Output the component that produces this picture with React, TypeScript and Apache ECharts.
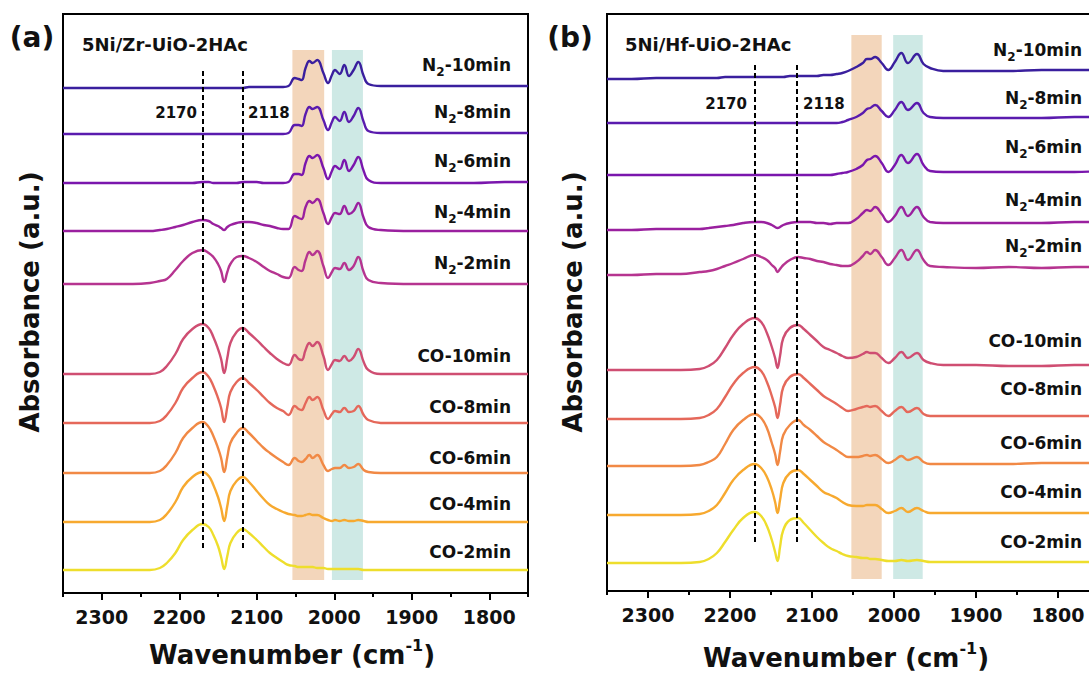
import React, { useEffect, useRef } from "react";
import * as echarts from "echarts";

// ---------- data ----------
// wavenumber sampling (cm-1)
const WN_A = [2350, 2320, 2290, 2260, 2238, 2225, 2216, 2205, 2195, 2183, 2170, 2162, 2156, 2150, 2146, 2142, 2138, 2134, 2126, 2118, 2110, 2100, 2091, 2083, 2074, 2066, 2059, 2051, 2046, 2042, 2037, 2032, 2028, 2022, 2014, 2008, 2003, 1999, 1993, 1987, 1981, 1975, 1969, 1962, 1956, 1940, 1900, 1860, 1820, 1780, 1750];
const WN_B = [2350, 2320, 2290, 2260, 2237, 2226, 2216, 2206, 2196, 2184, 2170, 2162, 2155, 2149, 2145, 2142, 2139, 2135, 2127, 2117, 2110, 2102, 2094, 2086, 2078, 2070, 2063, 2056, 2046, 2038, 2033, 2029, 2023, 2015, 2007, 1999, 1991, 1983, 1972, 1964, 1956, 1940, 1900, 1860, 1820, 1780, 1750];

const SPECTRA_NAMES = ["N2-10min", "N2-8min", "N2-6min", "N2-4min", "N2-2min", "CO-10min", "CO-8min", "CO-6min", "CO-4min", "CO-2min"];

// vertical offsets of each stacked spectrum (a.u.)
const OFFSET_A = [505, 459, 410, 362, 309, 219, 170, 120, 71, 23];
const OFFSET_B = [512, 468, 416, 361, 316, 221, 172, 125, 76, 28];

// panel (a) 5Ni/Zr-UiO-2HAc
const A_N2_10 = [0, 0, 0, 0, 0, 0, 0, 0, 0, 0, 0, 0, 0, 0, 0, 0, 0, 0, 0, 0, 1, 1, 1, 1, 1, 1, 2, 10, 9, 8, 20, 27, 25, 28, 15, 5, 13, 18, 14, 23, 12, 18, 26, 12, 4, 2, 2, 2, 2, 2, 2];
const A_N2_8 = [0, 0, 0, 0, 0, 0, 0, 0, 0, 0, 0, 0, 0, 0, 0, 0, 0, 0, 0, 0, 0, 0, 0, 0, 0, 0, 1, 9, 9, 8, 20, 27, 25, 27, 14, 4, 12, 17, 13, 22, 12, 18, 26, 12, 3, 1, 1, 1, 1, 1, 1];
const A_N2_6 = [0, 0, 0, 0, 0, 0, 0, 0, 0, 0, 1, 1, 0, 0, 0, 0, 0, 0, 0, 1, 1, 1, 0, 0, 0, 0, 1, 9, 9, 8, 20, 27, 25, 28, 15, 4, 12, 17, 14, 23, 12, 18, 26, 12, 3, 0, 0, 0, 0, 1, 1];
const A_N2_4 = [0, 0, 0, 0, 0, 1, 2, 4, 6, 9, 11, 10, 7, 5, 3, 1, 4, 6, 8, 9, 9, 8, 6, 5, 3, 2, 2, 15, 13, 12, 24, 30, 28, 32, 18, 7, 14, 18, 17, 25, 17, 20, 28, 13, 4, 1, 0, 0, 0, 0, 0];
const A_N2_2 = [0, 0, 0, 0, 1, 3, 5, 14, 23, 31, 34, 31, 27, 20, 13, 2, 12, 20, 27, 28, 26, 22, 17, 13, 10, 7, 6, 17, 14, 13, 24, 32, 29, 33, 18, 6, 12, 16, 15, 21, 14, 18, 27, 12, 4, 1, 0, 0, 0, 0, 0];
const A_CO_10 = [0, 0, 0, 0, 0, 2, 8, 20, 35, 45, 50, 46, 37, 25, 15, 1, 16, 31, 42, 46, 41, 34, 27, 21, 15, 11, 9, 19, 15, 14, 24, 31, 28, 32, 18, 4, 10, 14, 13, 18, 13, 17, 25, 12, 4, 0, 0, 0, 0, 0, 0];
const A_CO_8 = [0, 0, 0, 0, 0, 2, 8, 20, 35, 45, 51, 46, 37, 25, 15, 1, 16, 31, 41, 45, 40, 33, 26, 20, 15, 12, 8, 17, 14, 13, 20, 26, 23, 26, 13, 4, 9, 12, 11, 15, 11, 12, 17, 8, 3, 0, 0, 0, 0, 0, 0];
const A_CO_6 = [0, 0, 0, 0, 0, 2, 8, 20, 35, 45, 51, 46, 37, 25, 15, 1, 16, 30, 40, 45, 40, 32, 25, 20, 15, 11, 8, 15, 12, 11, 14, 18, 15, 18, 8, 2, 4, 5, 5, 8, 5, 6, 9, 3, 1, 0, 0, 0, 0, 0, 0];
const A_CO_4 = [0, 0, 0, 0, 0, 2, 8, 20, 35, 45, 50, 46, 37, 25, 14, 1, 16, 31, 41, 45, 40, 31, 23, 17, 13, 10, 8, 7, 6, 6, 7, 8, 7, 7, 4, 2, 1, 2, 1, 2, 1, 1, 2, 1, 0, 0, 0, 0, 0, 0, 0];
const A_CO_2 = [0, 0, 0, 0, 0, 2, 7, 17, 30, 40, 46, 43, 35, 24, 13, 1, 14, 27, 37, 41, 37, 30, 23, 17, 12, 8, 5, 4, 3, 3, 3, 3, 3, 2, 2, 1, 1, 1, 1, 1, 1, 1, 1, 0, 0, 0, 0, 0, 0, 0, 0];

// panel (b) 5Ni/Hf-UiO-2HAc
const B_N2_10 = [0, 0, 1, 1, 1, 1, 1, 2, 2, 2, 2, 2, 2, 2, 2, 2, 2, 2, 3, 3, 3, 3, 3, 4, 4, 5, 6, 8, 12, 16, 20, 20, 22, 16, 9, 17, 26, 16, 25, 15, 11, 8, 8, 8, 9, 9, 9];
const B_N2_8 = [0, 0, 0, 0, 0, 0, 0, 0, 0, 0, 0, 0, 0, 0, 0, 0, 0, 0, 0, 0, 0, 0, 0, 0, 0, 0, 1, 3, 6, 10, 14, 15, 18, 12, 6, 13, 21, 13, 20, 10, 6, 5, 5, 5, 5, 6, 6];
const B_N2_6 = [0, 0, 0, 0, 0, 0, 0, 0, 0, 0, 0, 0, 0, 0, 0, 0, 0, 0, 0, 0, 0, 0, 0, 0, 0, 1, 2, 3, 6, 10, 15, 16, 19, 12, 3, 10, 20, 12, 21, 10, 4, 3, 3, 3, 3, 3, 4];
const B_N2_4 = [0, 0, 1, 1, 1, 2, 3, 4, 5, 7, 8, 8, 7, 5, 3, 2, 3, 5, 7, 8, 8, 8, 7, 7, 6, 7, 7, 7, 11, 17, 20, 19, 23, 16, 8, 14, 23, 14, 23, 13, 8, 7, 7, 7, 7, 8, 8];
const B_N2_2 = [0, 0, 1, 1, 3, 4, 6, 9, 12, 16, 20, 18, 15, 10, 7, 3, 6, 10, 15, 18, 17, 16, 14, 13, 11, 10, 9, 9, 13, 19, 23, 21, 25, 18, 10, 17, 25, 15, 25, 15, 9, 8, 7, 8, 7, 8, 8];
const B_CO_10 = [0, 0, 0, 0, 1, 4, 10, 22, 35, 46, 52, 48, 37, 23, 12, 2, 14, 32, 42, 45, 41, 35, 29, 23, 20, 17, 14, 12, 13, 16, 18, 17, 17, 12, 7, 12, 18, 12, 17, 10, 7, 5, 5, 4, 4, 5, 5];
const B_CO_8 = [0, 0, 0, 0, 1, 4, 10, 22, 35, 46, 52, 48, 37, 23, 12, 1, 14, 32, 42, 45, 41, 35, 29, 23, 19, 15, 11, 8, 10, 12, 13, 12, 13, 8, 3, 8, 12, 7, 11, 5, 3, 3, 3, 3, 3, 3, 3];
const B_CO_6 = [0, 0, 0, 0, 1, 4, 9, 22, 36, 46, 52, 48, 38, 23, 12, 1, 14, 31, 41, 46, 41, 36, 30, 24, 20, 16, 12, 9, 9, 10, 11, 10, 11, 7, 3, 6, 10, 6, 9, 4, 2, 2, 2, 2, 3, 3, 3];
const B_CO_4 = [0, 0, 0, 0, 1, 4, 10, 22, 35, 45, 51, 47, 38, 25, 13, 2, 15, 32, 42, 45, 41, 35, 29, 23, 20, 17, 13, 10, 9, 9, 10, 10, 10, 6, 2, 4, 7, 3, 7, 4, 2, 2, 2, 2, 2, 2, 2];
const B_CO_2 = [0, 0, 0, 0, 1, 4, 10, 21, 33, 45, 51, 47, 37, 23, 11, 2, 16, 33, 43, 45, 40, 33, 26, 20, 15, 12, 9, 7, 6, 5, 5, 4, 4, 3, 2, 2, 3, 2, 3, 2, 1, 1, 1, 1, 1, 1, 1];

const SPECTRA_A = [A_N2_10, A_N2_8, A_N2_6, A_N2_4, A_N2_2, A_CO_10, A_CO_8, A_CO_6, A_CO_4, A_CO_2];
const SPECTRA_B = [B_N2_10, B_N2_8, B_N2_6, B_N2_4, B_N2_2, B_CO_10, B_CO_8, B_CO_6, B_CO_4, B_CO_2];

const TICK_VALUES = [2350, 2300, 2250, 2200, 2150, 2100, 2050, 2000, 1950, 1900, 1850, 1800, 1750];
const REF_LINES = [2170, 2118];
const BANDS_A = [[2054, 2013], [2003, 1963]];
const BANDS_B = [[2052, 2015], [2001, 1965]];
const SAMPLE_TITLES = ["5Ni/Zr-UiO-2HAc", "5Ni/Hf-UiO-2HAc"];
const PANEL_TAGS = ["(a)", "(b)"];

// ---------- styling / layout ----------
const FONT = "DejaVu Sans";
const TEXT = "#111";
const COLORS = ["#3a1f9e", "#5a1bae", "#7a16ad", "#9a209f", "#b63490", "#cf4e72", "#e5685a", "#f18945", "#f7a92f", "#eede2c"];
const BAND_COLORS = ["#f3d6bb", "#cee9e5"];

const PANELS = [
  {
    grid: { left: 63, top: 14, width: 465, height: 579 }, ymax: 579, wn: WN_A, spectra: SPECTRA_A, offsets: OFFSET_A,
    bands: BANDS_A, bandY: [13, 543], refY: [45, 523],
    labelX: 511, labelY: [65, 112, 161, 212, 263, 356, 407, 458, 504, 552],
    tag: { x: 32, y: 37 }, title: { x: 82, y: 44 }, ylab: { x: 30, y: 302 }, xlab: { x: 292, y: 655 },
    refLab: { y: 113, left: 197, right: 248 },
  },
  {
    grid: { left: 607, top: 14, width: 492, height: 577 }, ymax: 577, wn: WN_B, spectra: SPECTRA_B, offsets: OFFSET_B,
    bands: BANDS_B, bandY: [12, 556], refY: [49, 529],
    labelX: 1082, labelY: [50, 98, 147, 200, 246, 341, 389, 443, 492, 542],
    tag: { x: 570, y: 37 }, title: { x: 625, y: 44 }, ylab: { x: 573, y: 302 }, xlab: { x: 846, y: 658 },
    refLab: { y: 104, left: 747, right: 803 },
  },
];

function nameRich(name: string) {
  if (name.startsWith("N2")) return `{t|N}{s|2}{t|${name.slice(2)}}`;
  return `{t|${name}}`;
}

const LABEL_RICH = {
  t: { fontFamily: FONT, fontWeight: "bold", fontSize: 17, lineHeight: 26, fill: TEXT },
  s: { fontFamily: FONT, fontWeight: "bold", fontSize: 12, verticalAlign: "bottom", fill: TEXT },
};

function buildOption() {
  const xAxis: any[] = [];
  const yAxis: any[] = [];
  const series: any[] = [];
  const graphic: any[] = [];

  PANELS.forEach((p, pi) => {
    xAxis.push({
      type: "value", gridIndex: pi, min: 1750, max: 2350, interval: 50, inverse: true,
      axisLine: { show: true, onZero: false, lineStyle: { color: "#000", width: 2 } },
      axisTick: { show: true, length: 4, lineStyle: { color: "#000", width: 2 } },
      axisLabel: { show: false }, splitLine: { show: false },
    });
    xAxis.push({
      type: "category", gridIndex: pi, data: TICK_VALUES.map(String), boundaryGap: false, position: "bottom",
      axisLine: { show: false },
      axisTick: { show: true, length: 7, interval: (_i: number, v: string) => Number(v) % 100 === 0, lineStyle: { color: "#000", width: 2 } },
      axisLabel: {
        interval: (_i: number, v: string) => Number(v) % 100 === 0,
        fontFamily: FONT, fontWeight: "bold", fontSize: 19, color: TEXT, margin: 14,
      },
      splitLine: { show: false },
    });
    yAxis.push({ type: "value", gridIndex: pi, min: 0, max: p.ymax, show: false, splitLine: { show: false } });

    // highlighted bands
    series.push({
      type: "line", xAxisIndex: pi * 2, yAxisIndex: pi, data: [], z: 1, silent: true,
      markArea: {
        silent: true,
        data: p.bands.map(([a, b], k) => [
          { xAxis: a, yAxis: p.bandY[0], itemStyle: { color: BAND_COLORS[k], opacity: 1 } },
          { xAxis: b, yAxis: p.bandY[1] },
        ]),
      },
    });

    // spectra
    p.spectra.forEach((h, si) => {
      series.push({
        type: "line", name: SPECTRA_NAMES[si], xAxisIndex: pi * 2, yAxisIndex: pi, z: 2, silent: true,
        showSymbol: false, smooth: 0.45,
        lineStyle: { color: COLORS[si], width: 2.4 },
        data: p.wn.map((w, j) => [w, p.offsets[si] + h[j]]),
      });
    });

    // reference dashed lines
    series.push({
      type: "line", xAxisIndex: pi * 2, yAxisIndex: pi, data: [], z: 5, silent: true,
      markLine: {
        silent: true, symbol: ["none", "none"], label: { show: false },
        lineStyle: { color: "#000", type: [5, 3], width: 2 },
        data: REF_LINES.map((w) => [{ coord: [w, p.refY[0]] }, { coord: [w, p.refY[1]] }]),
      },
    });

    // texts
    SPECTRA_NAMES.forEach((n, si) => {
      graphic.push({
        type: "text", x: p.labelX, y: p.labelY[si], z: 10,
        style: { text: nameRich(n), rich: LABEL_RICH, align: "right", verticalAlign: "middle", fill: TEXT },
      });
    });
    graphic.push({
      type: "text", x: p.tag.x, y: p.tag.y, z: 10,
      style: { text: PANEL_TAGS[pi], fontFamily: FONT, fontWeight: "bold", fontSize: 28, fill: TEXT, align: "center", verticalAlign: "middle" },
    });
    graphic.push({
      type: "text", x: p.title.x, y: p.title.y, z: 10,
      style: { text: SAMPLE_TITLES[pi], fontFamily: FONT, fontWeight: "bold", fontSize: 18, fill: TEXT, align: "left", verticalAlign: "middle" },
    });
    graphic.push({
      type: "text", x: p.ylab.x, y: p.ylab.y, rotation: Math.PI / 2, z: 10,
      style: { text: "Absorbance (a.u.)", fontFamily: FONT, fontWeight: "bold", fontSize: 26, fill: TEXT, align: "center", verticalAlign: "middle" },
    });
    graphic.push({
      type: "text", x: p.xlab.x, y: p.xlab.y, z: 10,
      style: {
        text: "{m|Wavenumber (cm}{u|-1}{m|)}", align: "center", verticalAlign: "middle", fill: TEXT,
        rich: {
          m: { fontFamily: FONT, fontWeight: "bold", fontSize: 26, lineHeight: 36, fill: TEXT },
          u: { fontFamily: FONT, fontWeight: "bold", fontSize: 16, verticalAlign: "top", fill: TEXT },
        },
      },
    });
    graphic.push({
      type: "text", x: p.refLab.left, y: p.refLab.y, z: 10,
      style: { text: String(REF_LINES[0]), fontFamily: FONT, fontWeight: "bold", fontSize: 15, fill: TEXT, align: "right", verticalAlign: "middle" },
    });
    graphic.push({
      type: "text", x: p.refLab.right, y: p.refLab.y, z: 10,
      style: { text: String(REF_LINES[1]), fontFamily: FONT, fontWeight: "bold", fontSize: 15, fill: TEXT, align: "left", verticalAlign: "middle" },
    });
  });

  return {
    animation: false,
    backgroundColor: "#fff",
    grid: PANELS.map((p) => ({ ...p.grid, show: true, borderColor: "#000", borderWidth: 2, backgroundColor: "transparent" })),
    xAxis, yAxis, series, graphic,
  };
}

export default function App() {
  const ref = useRef<HTMLDivElement>(null);
  useEffect(() => {
    if (!ref.current) return;
    const chart = echarts.init(ref.current, null, { renderer: "svg" });
    chart.setOption(buildOption() as any);
    return () => chart.dispose();
  }, []);
  return (
    <div style={{ position: "fixed", left: 0, top: 0, width: 1089, height: 680, overflow: "hidden", background: "#fff" }}>
      <div ref={ref} style={{ width: 1110, height: 680 }} />
    </div>
  );
}
